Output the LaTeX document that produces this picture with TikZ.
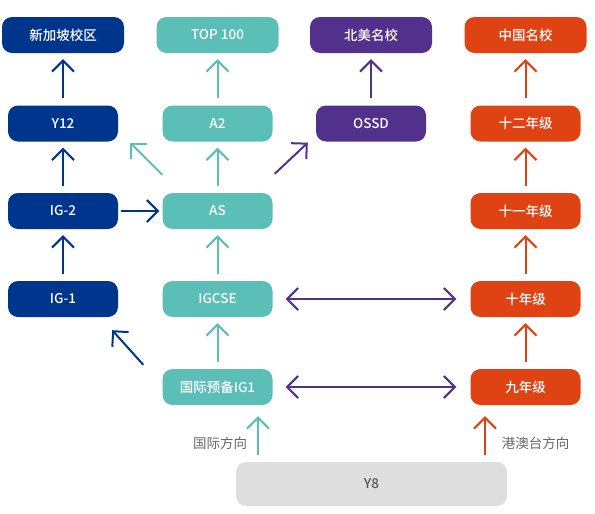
\documentclass[tikz,border=0pt]{standalone}
\usepackage{fontspec}
\setmainfont{Noto Sans CJK SC}
\IfFontExistsTF{Noto Sans CJK SC Medium}
  {\newfontfamily\boxfont{Noto Sans CJK SC Medium}}
  {\newfontfamily\boxfont{Noto Sans CJK SC}[FakeBold=1.2]}
\usetikzlibrary{arrows.meta}
\definecolor{dblue}{HTML}{00358E}
\definecolor{teal2}{HTML}{5BBFB7}
\definecolor{purp}{HTML}{51318C}
\definecolor{oran}{HTML}{DF4313}
\definecolor{gbox}{HTML}{DEDEDE}
\definecolor{gtext}{HTML}{595959}
\definecolor{ltext}{HTML}{666666}
\tikzset{
  box/.style={rounded corners=10pt, minimum height=36pt, inner sep=0pt, text=white, font=\boxfont\fontsize{13.5pt}{16pt}\selectfont},
  wide/.style={minimum width=122pt},
  narrow/.style={minimum width=110pt},
  bluebox/.style={box, fill=dblue},
  tealbox/.style={box, fill=teal2},
  purpbox/.style={box, fill=purp},
  orbox/.style={box, fill=oran},
  arr/.style={line width=2pt, -{Straight Barb[length=11pt,width=22pt,line width=2pt]}},
  uparr/.style={arr, shorten <=7pt, shorten >=6pt},
  dblarr/.style={line width=2pt, {Straight Barb[length=11pt,width=22pt,line width=2pt]}-{Straight Barb[length=11pt,width=22pt,line width=2pt]}, shorten <=13pt, shorten >=14pt},
  lbl/.style={text=ltext, font=\fontsize{13.5pt}{16pt}\selectfont, inner sep=0pt}
}
\begin{document}
\begin{tikzpicture}[x=1pt, y=-1pt]
\useasboundingbox (0,0) rectangle (595,514);
% left column
\node[bluebox, wide]   (sg)  at (63,35)    {新加坡校区};
\node[bluebox, narrow] (y12) at (63,123.5) {Y12};
\node[bluebox, narrow] (ig2) at (63,211)   {IG-2};
\node[bluebox, narrow] (ig1) at (63,299)   {IG-1};
% middle column
\node[tealbox, wide]   (top)   at (217.5,35)    {TOP 100};
\node[tealbox, narrow] (a2)    at (217.5,123.5) {A2};
\node[tealbox, narrow] (as)    at (217.5,211)   {AS};
\node[tealbox, narrow] (igcse) at (217.5,299)   {IGCSE};
\node[tealbox, narrow] (pre)   at (217.5,387)   {国际预备IG1};
% purple column
\node[purpbox, wide]   (na)   at (371,35)    {北美名校};
\node[purpbox, narrow] (ossd) at (371,123.5) {OSSD};
% right column
\node[orbox, wide]   (cn)  at (525.5,35)    {中国名校};
\node[orbox, narrow] (g12) at (525.5,123.5) {十二年级};
\node[orbox, narrow] (g11) at (525.5,211)   {十一年级};
\node[orbox, narrow] (g10) at (525.5,299)   {十年级};
\node[orbox, narrow] (g9)  at (525.5,387)   {九年级};
% bottom
\node[box, fill=gbox, text=gtext, minimum width=271pt, minimum height=44pt] (y8) at (371.5,484) {Y8};
\node[lbl] (lint) at (220,443) {国际方向};
\node[lbl] (lhk)  at (535.5,443) {港澳台方向};
% blue arrows
\draw[uparr, dblue] (y12.north) -- (sg.south);
\draw[uparr, dblue] (ig2.north) -- (y12.south);
\draw[uparr, dblue] (ig1.north) -- (ig2.south);
\draw[arr, dblue, shorten <=3pt, shorten >=3pt] (ig2.east) -- (as.west);
\draw[arr, dblue] ([shift={(-19,-4)}]pre.north west) -- ([shift={(-6,13)}]ig1.south east);
% teal arrows
\draw[uparr, teal2] (a2.north) -- (top.south);
\draw[uparr, teal2] (as.north) -- (a2.south);
\draw[uparr, teal2] (igcse.north) -- (as.south);
\draw[uparr, teal2] (pre.north) -- (igcse.south);
\draw[arr, teal2] ([shift={(0,-18)}]as.north west) -- ([shift={(12,1)}]y12.south east);
\draw[arr, teal2, shorten <=7pt, shorten >=11pt] ([shift={(40.5,0)}]pre.south |- y8.north) -- ([shift={(40.5,0)}]pre.south);
% purple arrows
\draw[uparr, purp] (ossd.north) -- (na.south);
\draw[arr, purp] ([shift={(2,-19)}]as.north east) -- ([shift={(-8,1)}]ossd.south west);
\draw[dblarr, purp] (igcse.east) -- (g10.west);
\draw[dblarr, purp] (pre.east) -- (g9.west);
% orange arrows
\draw[uparr, oran] (g12.north) -- (cn.south);
\draw[uparr, oran] (g11.north) -- (g12.south);
\draw[uparr, oran] (g10.north) -- (g11.south);
\draw[uparr, oran] (g9.north) -- (g10.south);
\draw[arr, oran, shorten <=7pt, shorten >=11pt] ([shift={(-40.5,0)}]g9.south |- y8.north) -- ([shift={(-40.5,0)}]g9.south);
\end{tikzpicture}
\end{document}
